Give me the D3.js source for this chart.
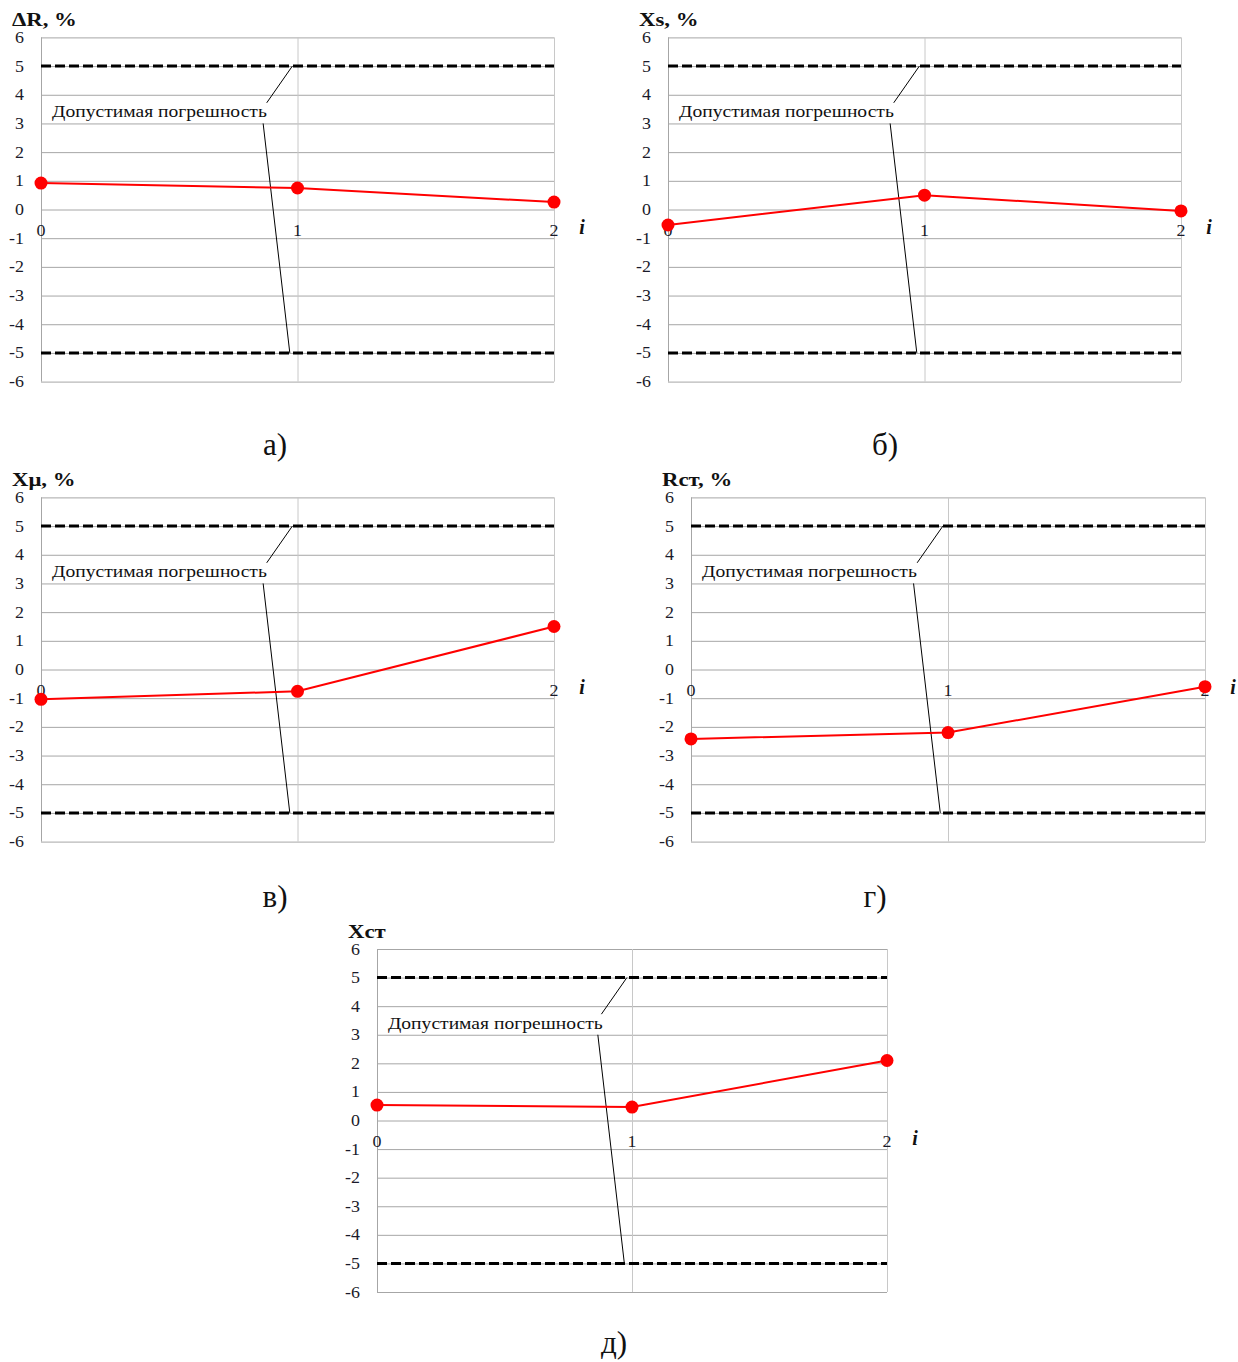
<!DOCTYPE html>
<html><head><meta charset="utf-8">
<script src="https://cdn.jsdelivr.net/npm/d3@7"></script>
<style>body{margin:0;background:#fff}svg{display:block}</style>
</head><body>
<script>
// ---- data ----
const categories = [0, 1, 2];
const seriesDR  = [0.92, 0.75, 0.26];
const seriesXs  = [-0.54, 0.50, -0.05];
const seriesXmu = [-1.04, -0.76, 1.50];
const seriesRst = [-2.42, -2.20, -0.60];
const seriesXst = [0.54, 0.47, 2.10];
const yTicks = [-6,-5,-4,-3,-2,-1,0,1,2,3,4,5,6];
const limits = [5, -5];
const titles = ["ΔR, %", "Xs, %", "Xμ, %", "Rст, %", "Xст"];
const panelLabels = ["а)", "б)", "в)", "г)", "д)"];
const annotation = "Допустимая погрешность";
const xAxisName = "i";

// ---- layout ----
const panels = [
  {s: seriesDR,  l: 41,  r: 554,  t: 37.4,  b: 381.6, lab: [275, 455]},
  {s: seriesXs,  l: 668, r: 1181, t: 37.4,  b: 381.6, lab: [885, 455]},
  {s: seriesXmu, l: 41,  r: 554,  t: 497.4, b: 841.6, lab: [275, 907]},
  {s: seriesRst, l: 691, r: 1205, t: 497.4, b: 841.6, lab: [875, 907]},
  {s: seriesXst, l: 377, r: 887,  t: 949,   b: 1292,  lab: [614, 1353]}
];

const svg = d3.select("body").append("svg").attr("width", 1238).attr("height", 1362);
const serif = "'Liberation Serif','Times New Roman',serif";

function stretchedText(g, px, py, sx, anchor) {
  return g.append("g").attr("transform", `translate(${px},${py}) scale(${sx},1)`)
    .append("text").attr("x", 0).attr("y", 0).attr("text-anchor", anchor || "start")
    .attr("font-family", serif);
}

panels.forEach((p, k) => {
  const x = d3.scaleLinear().domain([0, 2]).range([p.l, p.r]);
  const y = d3.scaleLinear().domain([-6, 6]).range([p.b, p.t]);
  const g = svg.append("g");

  // horizontal gridlines
  g.selectAll(".hg").data(yTicks).enter().append("line")
    .attr("x1", x(0)).attr("x2", x(2))
    .attr("y1", d => y(d) + 0.5).attr("y2", d => y(d) + 0.5)
    .attr("stroke", "#a6a6a6").attr("stroke-width", 1);
  // vertical gridlines (incl. axis)
  g.selectAll(".vg").data(categories).enter().append("line")
    .attr("x1", d => x(d) + 0.5).attr("x2", d => x(d) + 0.5)
    .attr("y1", y(6)).attr("y2", y(-6))
    .attr("stroke", d => d === 0 ? "#a6a6a6" : "#c8c8c8").attr("stroke-width", 1);

  // y tick labels
  yTicks.forEach(d => {
    stretchedText(g, x(0) - 17, y(d) + 5.5, 1.12, "end")
      .attr("font-size", 16).attr("fill", "#1a1a2a").text(d);
  });

  // x tick labels
  categories.forEach(d => {
    stretchedText(g, x(d), y(0) + 26, 1.12, "middle")
      .attr("font-size", 16).attr("fill", "#1a1a2a").text(d);
  });

  // axis name
  g.append("text").attr("x", x(2) + 28).attr("y", y(0) + 24)
    .attr("text-anchor", "middle").attr("font-family", serif).attr("font-size", 20)
    .attr("font-style", "italic").attr("font-weight", "bold").attr("fill", "#111").text(xAxisName);

  // limits
  g.selectAll(".lim").data(limits).enter().append("line")
    .attr("x1", x(0)).attr("x2", x(2))
    .attr("y1", d => y(d)).attr("y2", d => y(d))
    .attr("stroke", "#000").attr("stroke-width", 3).attr("stroke-dasharray", "10,4");

  // annotation
  stretchedText(g, x(0.043), y(3.4) + 5.5, 1.12, "start")
    .attr("font-size", 17.5).attr("fill", "#111").text(annotation);
  g.append("line").attr("x1", x(0.88)).attr("y1", y(3.72)).attr("x2", x(0.98)).attr("y2", y(5))
    .attr("stroke", "#000").attr("stroke-width", 1);
  g.append("line").attr("x1", x(0.866)).attr("y1", y(3.0)).attr("x2", x(0.97)).attr("y2", y(-5))
    .attr("stroke", "#000").attr("stroke-width", 1);

  // series
  const line = d3.line().x((d, i) => x(categories[i])).y(d => y(d));
  g.append("path").datum(p.s).attr("d", line).attr("fill", "none")
    .attr("stroke", "#ff0000").attr("stroke-width", 2);
  g.selectAll(".pt").data(p.s).enter().append("circle")
    .attr("cx", (d, i) => x(categories[i])).attr("cy", d => y(d)).attr("r", 6.5)
    .attr("fill", "#ff0000");

  // title
  stretchedText(g, x(0) - 29, y(6) - 11, 1.2, "start")
    .attr("font-size", 19).attr("font-weight", "bold").attr("fill", "#111").text(titles[k]);

  // panel label
  g.append("text").attr("x", p.lab[0]).attr("y", p.lab[1])
    .attr("text-anchor", "middle").attr("font-family", serif).attr("font-size", 31)
    .attr("fill", "#111").text(panelLabels[k]);
});
</script>
</body></html>
